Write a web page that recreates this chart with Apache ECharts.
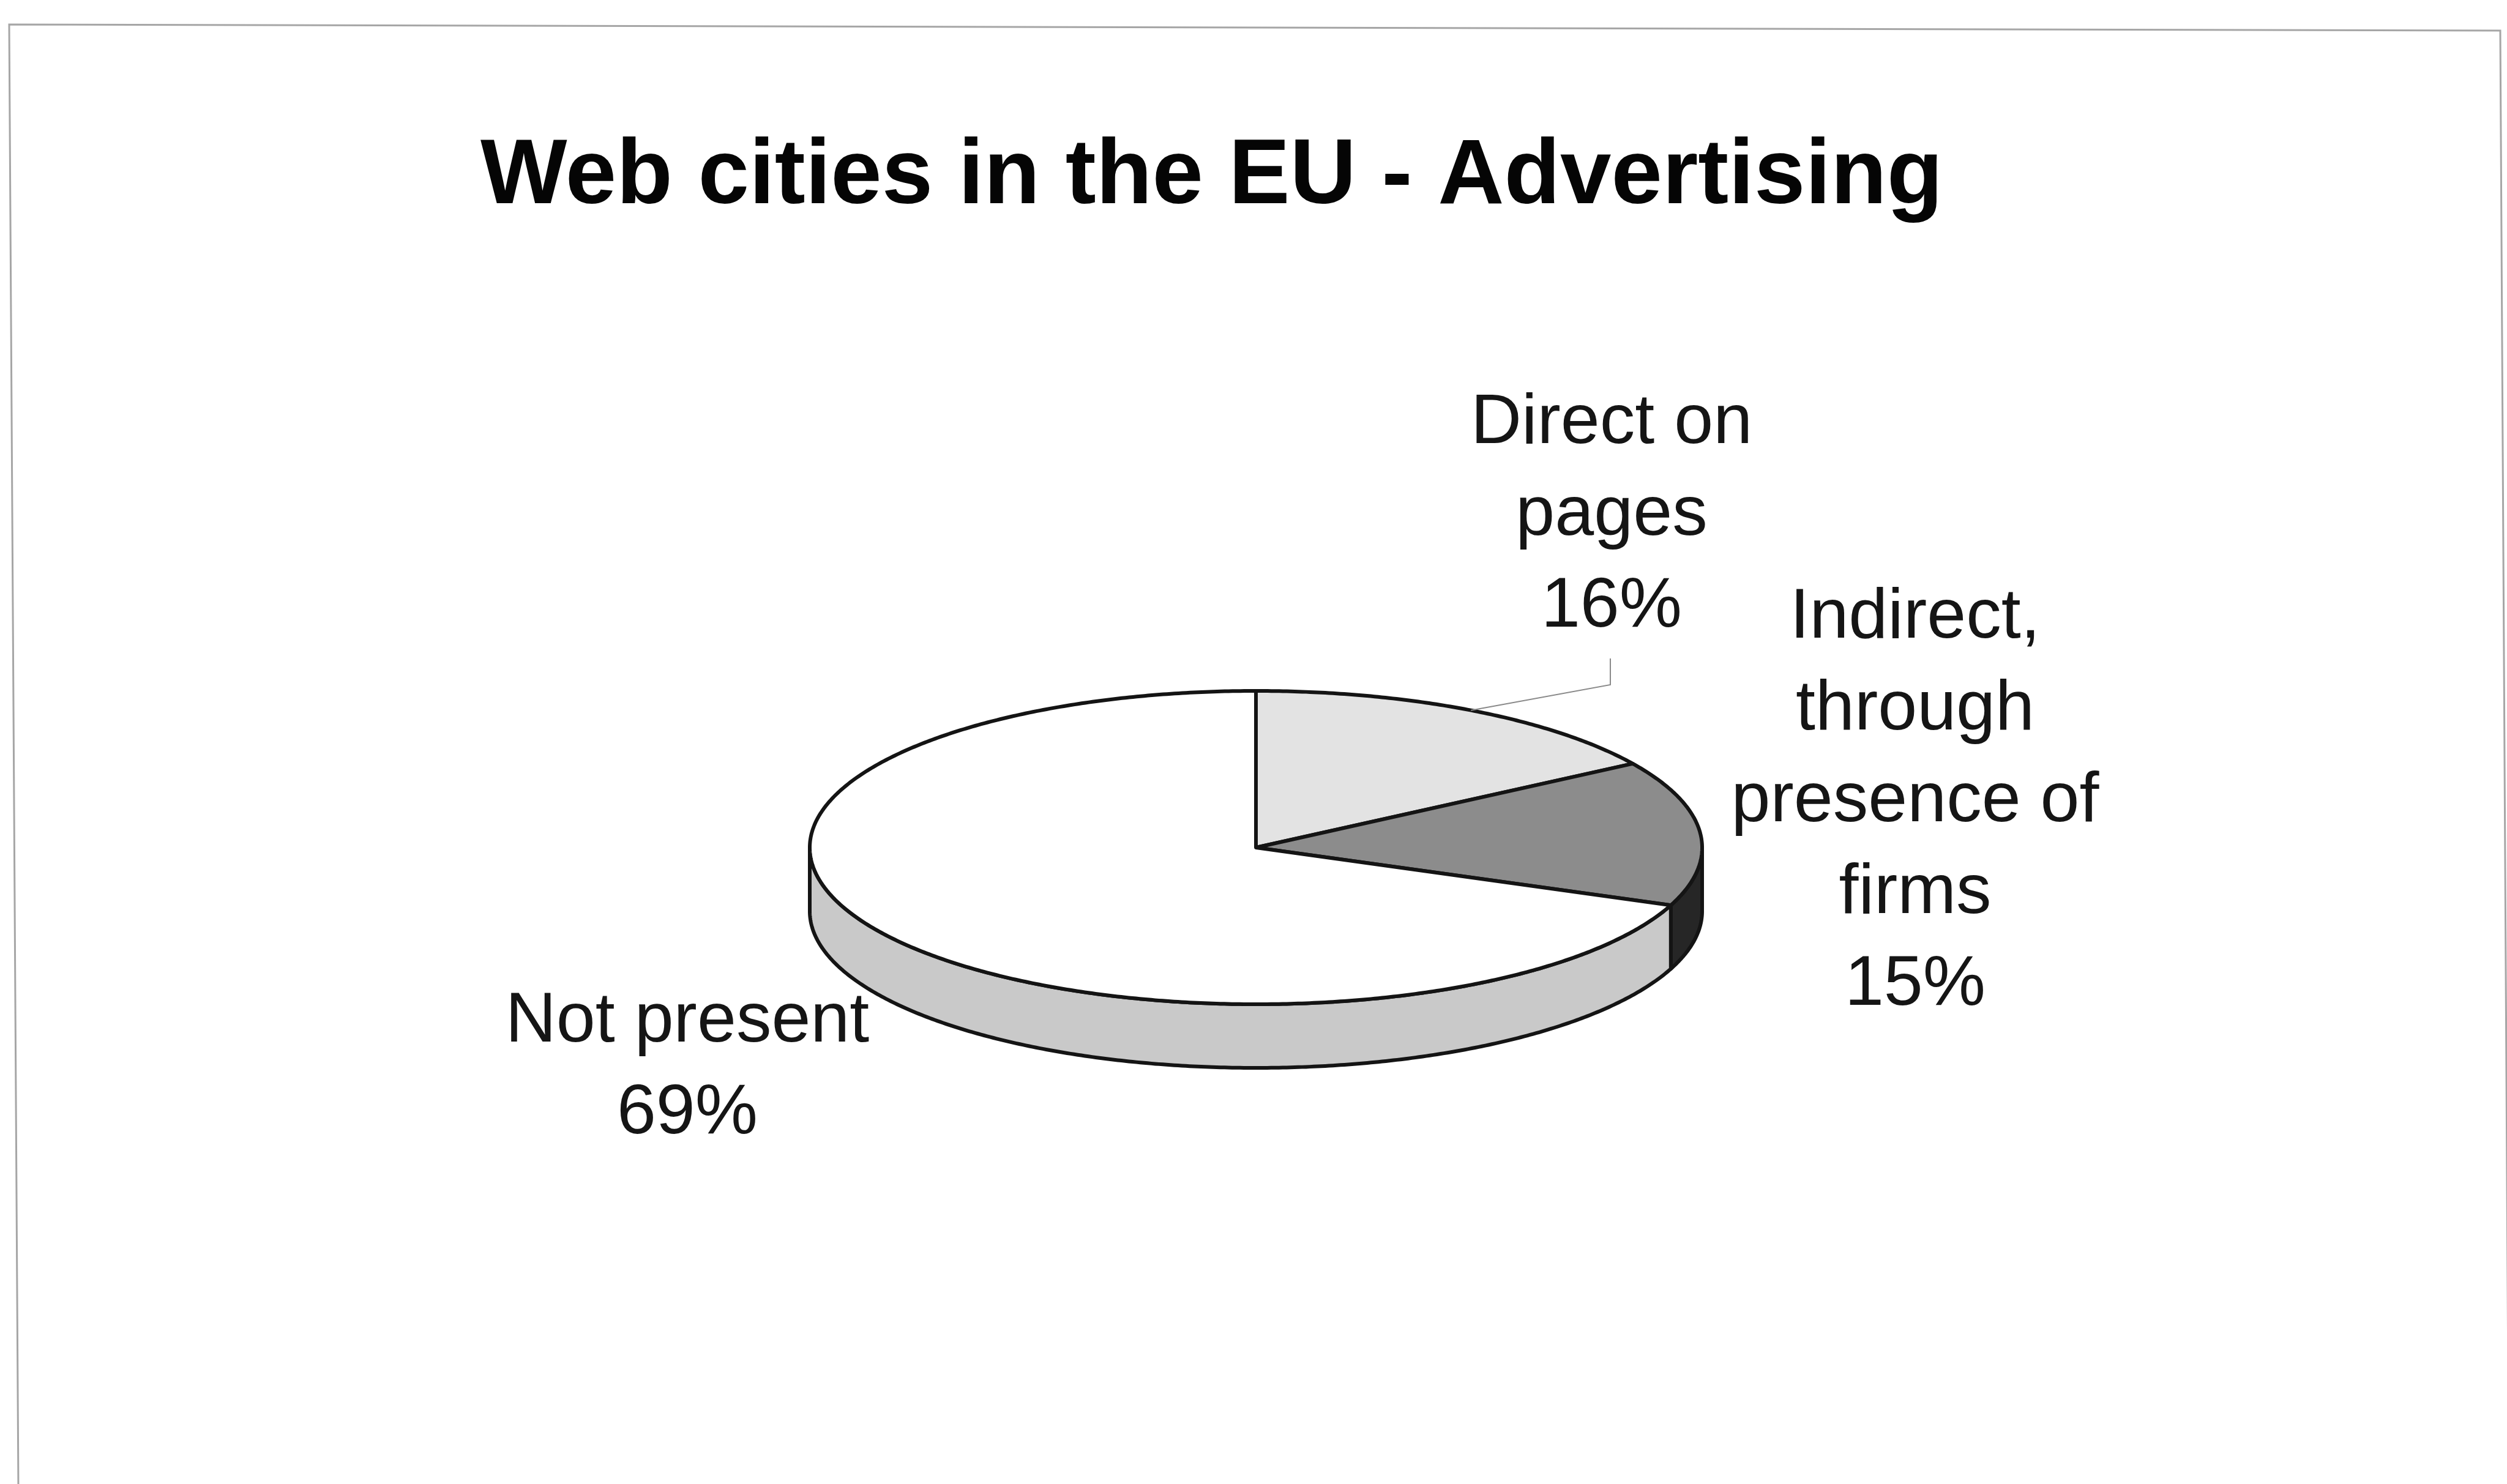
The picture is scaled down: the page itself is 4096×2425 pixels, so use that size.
<!DOCTYPE html>
<html>
<head>
<meta charset="utf-8">
<script src="https://cdn.jsdelivr.net/npm/echarts@6/dist/echarts.min.js"></script>
<style>
  html, body { margin: 0; padding: 0; background: #ffffff; }
  #chart { width: 4096px; height: 2425px; }
</style>
</head>
<body>
<div id="chart"></div>
<script>
// Advertising presence on EU city web sites (share of cities, %)
const categories = ['Direct on\npages', 'Indirect,\nthrough\npresence of\nfirms', 'Not present'];
const shares = [16, 15, 69];

// Face colours of each slice: top surface and visible side wall
const topColors = ['#e3e3e3', '#8c8c8c', '#ffffff'];
const sideColors = ['#b5b5b5', '#262626', '#c9c9c9'];

// Where each slice label block is centred, and the elbow of its leader line
const labelAnchors = [[2633, 842], [3129, 1310], [1123, 1745]];
const leaderElbows = [[[2631, 1076], [2631, 1119]], null, null];

// Tilted pie: centre, horizontal/vertical radii, thickness, first slice starts at 12 o'clock
const PIE = { cx: 2052, cy: 1385, rx: 729, ry: 256, depth: 104, startDeg: 90 };
const FONT = "'Liberation Sans', Arial, Helvetica, sans-serif";
const OUTLINE = '#141414';
const EDGE_WIDTH = 6;

const total = shares.reduce((s, v) => s + v, 0);

function rimPoint(deg, dy) {
  const r = deg * Math.PI / 180;
  return [PIE.cx + PIE.rx * Math.cos(r), PIE.cy - PIE.ry * Math.sin(r) + (dy || 0)];
}

// points along the rim going clockwise from `from` down to `to` (degrees)
function arc(from, to, dy) {
  const steps = Math.max(2, Math.ceil(Math.abs(from - to) / 0.5));
  const pts = [];
  for (let k = 0; k <= steps; k++) {
    pts.push(rimPoint(from + (to - from) * k / steps, dy));
  }
  return pts;
}

function renderSlice(params, api) {
  const i = params.dataIndex;
  const value = api.value(1);
  let before = 0;
  for (let k = 0; k < i; k++) before += shares[k];
  const a0 = PIE.startDeg - before / total * 360;
  const a1 = a0 - value / total * 360;
  const children = [];

  // side wall: the part of the slice lying on the front half of the rim
  for (const shift of [-360, 0, 360]) {
    const lo = Math.max(a1, -180 + shift);
    const hi = Math.min(a0, 0 + shift);
    if (hi - lo > 0.01) {
      const upper = arc(hi, lo, 0);
      const lower = arc(lo, hi, PIE.depth);
      children.push({
        type: 'polygon',
        shape: { points: upper.concat(lower) },
        style: { fill: sideColors[i], stroke: OUTLINE, lineWidth: EDGE_WIDTH, lineJoin: 'round' }
      });
    }
  }

  // top face
  children.push({
    type: 'polygon',
    shape: { points: [[PIE.cx, PIE.cy]].concat(arc(a0, a1, 0)) },
    style: { fill: topColors[i], stroke: OUTLINE, lineWidth: EDGE_WIDTH, lineJoin: 'round' }
  });

  // leader line from the label to the middle of the slice's rim
  if (leaderElbows[i]) {
    const mid = rimPoint((a0 + a1) / 2, 0);
    children.push({
      type: 'polyline',
      shape: { points: leaderElbows[i].concat([mid]) },
      style: { stroke: '#8a8a8a', lineWidth: 2, fill: null }
    });
  }

  // category name and percentage
  const pct = Math.round(value / total * 100) + '%';
  children.push({
    type: 'text',
    x: labelAnchors[i][0],
    y: labelAnchors[i][1],
    style: {
      text: categories[i] + '\n' + pct,
      fill: '#151515',
      fontSize: 115,
      fontFamily: FONT,
      align: 'center',
      verticalAlign: 'middle',
      lineHeight: 150
    }
  });

  return { type: 'group', children: children };
}

const chart = echarts.init(document.getElementById('chart'), null, { renderer: 'canvas' });
chart.setOption({
  animation: false,
  backgroundColor: '#ffffff',
  title: {
    text: 'Web cities in the EU - Advertising',
    left: 785,
    top: 216,
    padding: 0,
    textStyle: {
      fontSize: 150,
      fontWeight: 'bold',
      fontFamily: FONT,
      color: '#050505',
      lineHeight: 150
    }
  },
  graphic: [{
    type: 'polyline',
    shape: { points: [[30, 2430], [15, 40], [4085, 50], [4099, 2430]] },
    style: { stroke: '#a6a6a6', lineWidth: 3, fill: null },
    silent: true
  }],
  series: [{
    type: 'custom',
    coordinateSystem: 'none',
    renderItem: renderSlice,
    data: shares.map((v, i) => ({ name: categories[i], value: [i, v] }))
  }]
});
</script>
</body>
</html>
